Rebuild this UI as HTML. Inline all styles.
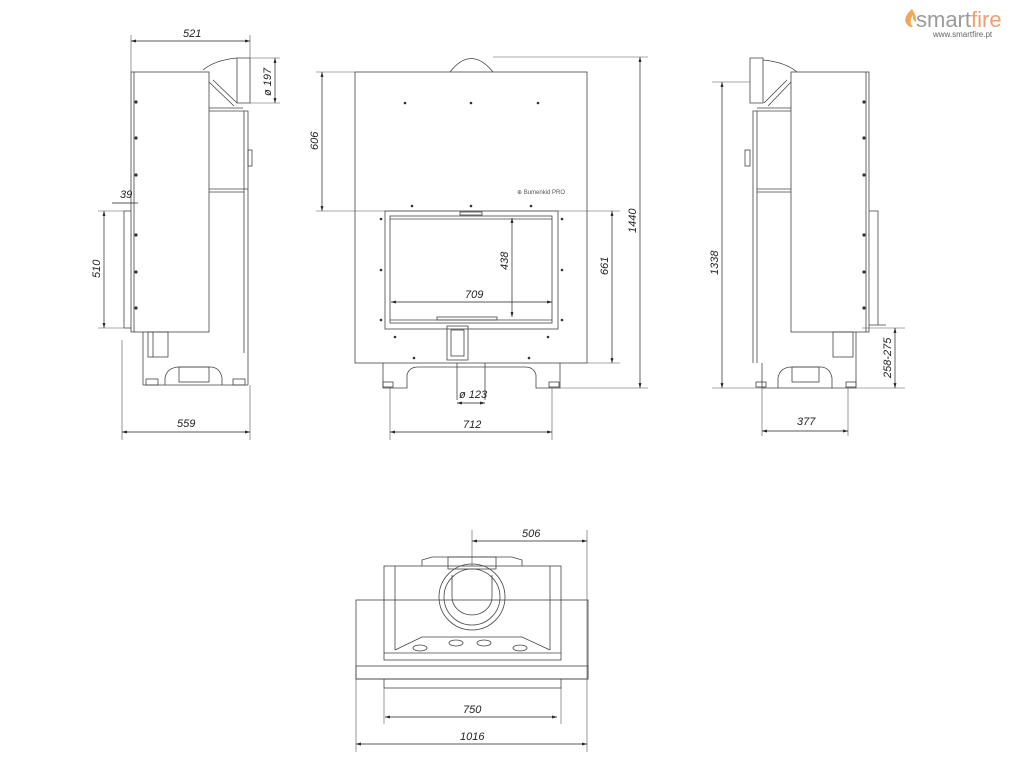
<!DOCTYPE html>
<html><head><meta charset="utf-8"><style>
html,body{margin:0;padding:0;background:#fff;width:1024px;height:768px;overflow:hidden}
svg{display:block}
text{font-family:"Liberation Sans",sans-serif;font-size:11px;font-style:italic;fill:#222}
</style></head><body>
<svg width="1024" height="768" viewBox="0 0 1024 768" xmlns="http://www.w3.org/2000/svg">
<defs>
<marker id="a" viewBox="0 0 10 10" refX="10" refY="5" markerWidth="7" markerHeight="7" orient="auto-start-reverse"><path d="M0,2 L10,5 L0,8z" fill="#222"/></marker>
</defs>
<g fill="none" stroke="#444" stroke-width="0.8">
<!-- LEFT SIDE VIEW -->
<rect x="131" y="72" width="78" height="260"/>
<line x1="134" y1="72" x2="134" y2="332"/>
<path d="M209,111 H248 V353"/>
<line x1="244" y1="111" x2="244" y2="353"/>
<line x1="209" y1="189" x2="248" y2="189"/><line x1="209" y1="192" x2="244" y2="192"/>
<rect x="248" y="150" width="4" height="16"/>
<path d="M237,58 H250 V103 H237z"/><path d="M203,70 Q215,60 237,58"/>
<path d="M209,82 L234,106 M213,80 L237,103 M209,108 H243"/>
<path d="M143,332 V385 M248,353 V385 M143,385 H248"/>
<path d="M165,385 V378 Q167,367 180,367 H210 Q220,367 222,378 V385"/>
<rect x="179" y="367" width="30" height="15"/>
<rect x="148" y="332" width="20" height="25"/><line x1="153" y1="332" x2="153" y2="357"/>
<rect x="146" y="379" width="12" height="6"/><rect x="233" y="379" width="12" height="6"/>
<line x1="124" y1="211" x2="131" y2="211"/><line x1="124" y1="211" x2="124" y2="328"/><line x1="124" y1="328" x2="131" y2="328"/>
<!-- FRONT VIEW -->
<rect x="355" y="72" width="232" height="291"/>
<path d="M450,72 Q471,45 493,72"/>
<rect x="385" y="211" width="173" height="118"/>
<rect x="390" y="216" width="162" height="107"/>
<line x1="390" y1="219" x2="552" y2="219"/><line x1="390" y1="320" x2="552" y2="320"/>
<rect x="460" y="212" width="22" height="3"/><rect x="437" y="317" width="60" height="3"/>
<rect x="447" y="326" width="21" height="34"/><rect x="451" y="330" width="13" height="26"/>
<path d="M383,363 V388 H407 V375 Q409,367 418,367 H525 Q534,367 536,375 V388 H560 V363"/>
<line x1="457" y1="363" x2="457" y2="400"/><line x1="485" y1="363" x2="485" y2="400"/>
<rect x="383" y="382" width="10" height="5"/><rect x="549" y="382" width="10" height="5"/>
<!-- RIGHT SIDE VIEW -->
<rect x="791" y="72" width="78" height="260"/>
<line x1="866" y1="72" x2="866" y2="332"/>
<path d="M791,111 H753 V363"/><line x1="757" y1="111" x2="757" y2="363"/>
<line x1="757" y1="189" x2="791" y2="189"/><line x1="757" y1="192" x2="791" y2="192"/>
<rect x="745" y="150" width="5" height="16"/>
<path d="M750,58 H763 V103 H750z"/><path d="M763,60 Q785,62 797,72"/>
<path d="M791,82 L768,106 M787,80 L764,103 M757,108 H791"/>
<path d="M869,211 H878 V325 H869 M878,325 H886"/>
<path d="M856,332 V388 M762,388 H856 M762,363 V388"/>
<path d="M778,388 V378 Q780,367 792,367 H820 Q830,367 832,378 V388"/>
<rect x="792" y="367" width="27" height="15"/>
<rect x="833" y="332" width="20" height="25"/>
<rect x="756" y="382" width="10" height="5"/><rect x="846" y="382" width="10" height="5"/>
<!-- TOP VIEW -->
<rect x="356" y="600" width="232" height="79"/>
<rect x="384" y="566" width="177" height="94"/>
<line x1="395" y1="566" x2="395" y2="650"/><line x1="550" y1="566" x2="550" y2="650"/>
<path d="M422,566 V560 L432,557 H512 L522,560 V566"/>
<rect x="448" y="557" width="48" height="12"/>
<path d="M395,650 L422,637 H522 L550,650"/>
<circle cx="472" cy="597" r="33"/><circle cx="472" cy="597" r="28"/>
<path d="M452,575 V597 A20,18 0 0 0 492,597 V575"/>
<line x1="384" y1="653" x2="561" y2="653"/>
<rect x="356" y="666" width="232" height="13"/>
<rect x="384" y="679" width="177" height="9"/>
<ellipse cx="420" cy="648" rx="7" ry="3"/><ellipse cx="456" cy="643" rx="7" ry="3"/><ellipse cx="484" cy="643" rx="7" ry="3"/><ellipse cx="520" cy="648" rx="7" ry="3"/>
</g>
<!-- bolt dots -->
<g fill="#333">
<circle cx="405" cy="103" r="1.3"/><circle cx="471" cy="103" r="1.3"/><circle cx="538" cy="103" r="1.3"/>
<circle cx="412" cy="206" r="1.3"/><circle cx="471" cy="206" r="1.3"/><circle cx="531" cy="206" r="1.3"/>
<circle cx="381" cy="219" r="1.3"/><circle cx="381" cy="270" r="1.3"/><circle cx="381" cy="320" r="1.3"/>
<circle cx="562" cy="219" r="1.3"/><circle cx="562" cy="270" r="1.3"/><circle cx="562" cy="320" r="1.3"/>
<circle cx="395" cy="337" r="1.3"/><circle cx="548" cy="337" r="1.3"/><circle cx="414" cy="358" r="1.3"/><circle cx="529" cy="358" r="1.3"/>
<circle cx="136" cy="102" r="1.6"/><circle cx="136" cy="138" r="1.6"/><circle cx="136" cy="175" r="1.6"/><circle cx="136" cy="235" r="1.6"/><circle cx="136" cy="272" r="1.6"/><circle cx="136" cy="308" r="1.6"/>
<circle cx="864" cy="102" r="1.6"/><circle cx="864" cy="138" r="1.6"/><circle cx="864" cy="175" r="1.6"/><circle cx="864" cy="235" r="1.6"/><circle cx="864" cy="272" r="1.6"/><circle cx="864" cy="308" r="1.6"/>
</g>
<!-- extension lines -->
<g stroke="#555" stroke-width="0.6" fill="none">
<line x1="131" y1="35" x2="131" y2="72"/><line x1="250" y1="35" x2="250" y2="58"/>
<line x1="250" y1="58" x2="280" y2="58"/><line x1="250" y1="103" x2="280" y2="103"/>
<line x1="122" y1="340" x2="122" y2="440"/><line x1="250" y1="385" x2="250" y2="440"/>
<line x1="98" y1="211" x2="124" y2="211"/><line x1="98" y1="328" x2="124" y2="328"/>
<line x1="316" y1="72" x2="355" y2="72"/><line x1="316" y1="211" x2="620" y2="211"/>
<line x1="587" y1="363" x2="620" y2="363"/><line x1="493" y1="57" x2="648" y2="57"/><line x1="560" y1="388" x2="648" y2="388"/>
<line x1="390" y1="388" x2="390" y2="440"/><line x1="552" y1="388" x2="552" y2="440"/>
<line x1="712" y1="82" x2="750" y2="82"/><line x1="712" y1="388" x2="762" y2="388"/>
<line x1="862" y1="328" x2="905" y2="328"/><line x1="856" y1="388" x2="905" y2="388"/>
<line x1="762" y1="388" x2="762" y2="436"/><line x1="848" y1="388" x2="848" y2="436"/>
<line x1="472" y1="530" x2="472" y2="566"/><line x1="587" y1="530" x2="587" y2="752"/>
<line x1="356" y1="679" x2="356" y2="752"/><line x1="384" y1="688" x2="384" y2="724"/><line x1="561" y1="688" x2="561" y2="724"/>
</g>
<!-- dimension lines -->
<g stroke="#222" stroke-width="0.7" marker-start="url(#a)" marker-end="url(#a)">
<line x1="131" y1="41" x2="250" y2="41"/>
<line x1="275" y1="58" x2="275" y2="103"/>
<line x1="104" y1="211" x2="104" y2="328"/>
<line x1="122" y1="432" x2="250" y2="432"/>
<line x1="322" y1="72" x2="322" y2="211"/>
<line x1="612" y1="211" x2="612" y2="363"/>
<line x1="640" y1="57" x2="640" y2="388"/>
<line x1="391" y1="302" x2="552" y2="302"/>
<line x1="512" y1="218" x2="512" y2="317"/>
<line x1="457" y1="403" x2="485" y2="403"/>
<line x1="390" y1="432" x2="552" y2="432"/>
<line x1="722" y1="82" x2="722" y2="388"/>
<line x1="895" y1="328" x2="895" y2="388"/>
<line x1="762" y1="431" x2="848" y2="431"/>
<line x1="472" y1="541" x2="587" y2="541"/>
<line x1="385" y1="717" x2="557" y2="717"/>
<line x1="356" y1="744" x2="587" y2="744"/>
</g>
<line x1="112" y1="203" x2="138" y2="203" stroke="#222" stroke-width="0.7"/>
<!-- labels -->
<text x="183" y="37">521</text>
<text transform="translate(271,96) rotate(-90)">ø 197</text>
<text x="120" y="198">39</text>
<text transform="translate(100,278) rotate(-90)">510</text>
<text x="177" y="427">559</text>
<text transform="translate(318,150) rotate(-90)">606</text>
<text transform="translate(608,275) rotate(-90)">661</text>
<text transform="translate(636,233) rotate(-90)">1440</text>
<text x="465" y="298">709</text>
<text transform="translate(508,270) rotate(-90)">438</text>
<text x="459" y="398">ø 123</text>
<text x="463" y="428">712</text>
<text transform="translate(718,275) rotate(-90)">1338</text>
<text transform="translate(891,378) rotate(-90)">258-275</text>
<text x="797" y="425">377</text>
<text x="522" y="537">506</text>
<text x="463" y="713">750</text>
<text x="460" y="740">1016</text>
<text x="517" y="194" style="font-size:6px;font-style:normal;fill:#555">⊕ Bumenkid PRO</text>
<!-- logo -->
<path d="M912,9 Q903,17 906,23 Q909,28 913,27 Q908,22 913,15 Q912,20 916,22 Q917,16 912,9z" fill="#f2a65a"/>
<text x="916" y="27" style="font-size:22px;font-style:normal;fill:#9a9a9a">smart<tspan fill="#f0a070">fire</tspan></text>
<text x="933" y="37" style="font-size:8px;font-style:normal;fill:#666">www.smartfire.pt</text>
</svg>
</body></html>
